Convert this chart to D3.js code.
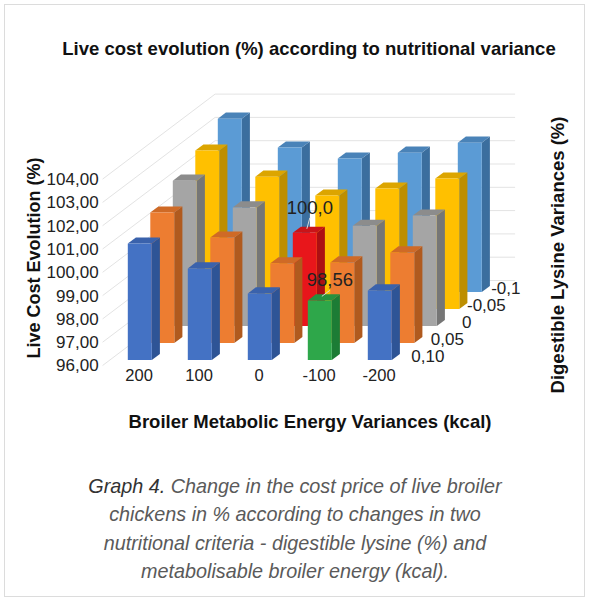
<!DOCTYPE html>
<html>
<head>
<meta charset="utf-8">
<script src="https://cdn.jsdelivr.net/npm/d3@7"></script>
<style>
  body { margin: 0; background: #fff; }
  text { font-family: "Liberation Sans", Arial, sans-serif; }
</style>
</head>
<body>
<svg id="chart" width="589" height="600"></svg>
<script>
// categories along the front (energy, kcal) and series going back (lysine, %)
const categories = ["200", "100", "0", "-100", "-200"];
const series = ["0,10", "0,05", "0", "-0,05", "-0,1"];

// one array of values per lysine variance, same order as categories
const lys010 = [101.00, 99.93, 98.86, 98.56, 98.99];
const lys005 = [101.60, 100.53, 99.42, 99.46, 99.89];
const lys000 = [102.24, 101.09, 100.00, 100.30, 100.74];
const lysM005 = [102.80, 101.68, 100.87, 101.17, 101.60];
const lysM010 = [103.44, 102.20, 101.73, 101.98, 102.41];
const seriesValues = [lys010, lys005, lys000, lysM005, lysM010];

const valueTicks = [96, 97, 98, 99, 100, 101, 102, 103, 104];

// highlighted cells with their data labels
const highlights = [
  { cat: "0", ser: "0", text: "100,0", color: "red", dx: 1, dy: -13 },
  { cat: "-100", ser: "0,10", text: "98,56", color: "green", dx: 6, dy: -8 }
];

// colours: front, side, top
const palette = {
  "0,10": ["#4472C4", "#2E5496", "#3A62AC"],
  "0,05": ["#ED7D31", "#B05A1E", "#CF6A26"],
  "0": ["#A5A5A5", "#767676", "#8C8C8C"],
  "-0,05": ["#FFC000", "#BD8E00", "#DCA500"],
  "-0,1": ["#5B9BD5", "#3B6E9E", "#4A83B8"],
  red: ["#E8161B", "#AD0F13", "#C91418"],
  green: ["#2EA74A", "#1C7C35", "#26913F"]
};

const svg = d3.select("#chart");

// oblique projection of the 3d box
const x0 = 102.6, y0 = 365.5;   // front-left corner of the floor
const DX = 22.5, DY = -17;      // screen offset for one row of depth
const proj = (x, h, d) => [x + d * DX, y0 - h + d * DY];

const xScale = d3.scaleBand().domain(categories).range([x0, x0 + 300]);
const zScale = d3.scaleBand().domain(series).range([0, 5]);
const hScale = d3.scaleLinear().domain([96, 104]).range([0, 186.4]);
const yScale = d3.scaleLinear().domain([96, 104]).range([y0, y0 - 186.4]);

const barW = xScale.bandwidth() * 0.4;
const barOff = (xScale.bandwidth() - barW) / 2;
const dFront = 0.32, dBack = 0.68;
const depth = 5;

// border round the figure
svg.append("rect")
  .attr("x", 4.5).attr("y", 4.5)
  .attr("width", 580).attr("height", 592)
  .attr("fill", "#fff")
  .attr("stroke", "#dcdcdc");

// walls: gridlines on back wall and left wall
const grid = svg.append("g").attr("stroke", "#e3e3e3").attr("fill", "none");
valueTicks.forEach(v => {
  const h = hScale(v);
  const a = proj(x0, h, 0);
  const b = proj(x0, h, depth);
  const c = proj(x0 + 300, h, depth);
  grid.append("path").attr("d", `M${a}L${b}L${c}`);
});

// bars, drawn back to front
const cells = [];
series.forEach((s, si) => {
  categories.forEach((c, ci) => {
    cells.push({ cat: c, ser: s, si: si, value: seriesValues[si][ci] });
  });
});
cells.sort((a, b) => b.si - a.si);

const bars = svg.append("g");
cells.forEach(d => {
  const hl = highlights.find(h => h.cat === d.cat && h.ser === d.ser);
  const col = hl ? palette[hl.color] : palette[d.ser];
  const bx = xScale(d.cat) + barOff;
  const z = zScale(d.ser);
  const h = hScale(d.value);
  const fl = proj(bx, 0, z + dFront), fr = proj(bx + barW, 0, z + dFront);
  const tl = proj(bx, h, z + dFront), tr = proj(bx + barW, h, z + dFront);
  const br = proj(bx + barW, 0, z + dBack), btr = proj(bx + barW, h, z + dBack);
  const btl = proj(bx, h, z + dBack);
  const g = bars.append("g");
  g.append("path").attr("d", `M${fr}L${br}L${btr}L${tr}Z`).attr("fill", col[1]);
  g.append("path").attr("d", `M${tl}L${tr}L${btr}L${btl}Z`).attr("fill", col[2]);
  g.append("path").attr("d", `M${fl}L${fr}L${tr}L${tl}Z`).attr("fill", col[0]);
  if (hl) {
    d.label = hl;
    d.topCenter = proj(bx + barW / 2, h, z + 0.5);
  }
});

// data labels with short leader lines
cells.filter(d => d.label).forEach(d => {
  const [tx, ty] = d.topCenter;
  const lx = tx + d.label.dx, ly = ty + d.label.dy;
  svg.append("line")
    .attr("x1", tx - 2).attr("y1", ty - 1)
    .attr("x2", lx).attr("y2", ly + 1)
    .attr("stroke", "#d9d9d9").attr("stroke-width", 1);
  svg.append("text")
    .attr("x", lx).attr("y", ly - 3)
    .attr("text-anchor", "middle")
    .attr("font-size", 18.5).attr("fill", "#222")
    .text(d.label.text);
});

// value axis labels on the front-left edge
const fmt = d3.formatLocale({ decimal: ",", thousands: ".", grouping: [3], currency: ["", ""] }).format(".2f");
const yAxis = svg.append("g")
  .attr("transform", `translate(${x0 - 4},0)`)
  .call(d3.axisLeft(yScale).tickValues(valueTicks).tickFormat(fmt).tickSize(0).tickPadding(0));
yAxis.select(".domain").remove();
yAxis.attr("font-size", null).attr("font-family", null);
yAxis.selectAll("text")
  .style("font-size", "17px")
  .attr("fill", "#222")
  .style("font-family", "'Liberation Sans', Arial, sans-serif");

// category labels along the front
svg.append("g").selectAll("text")
  .data(categories)
  .join("text")
  .attr("x", d => xScale(d) + xScale.bandwidth() / 2 + 6.5)
  .attr("y", 381)
  .attr("text-anchor", "middle")
  .attr("font-size", 16.5).attr("fill", "#222")
  .text(d => d);

// series labels along the right edge of the floor
svg.append("g").selectAll("text")
  .data(series)
  .join("text")
  .attr("x", (d, i) => proj(x0 + 300, 0, zScale(d) + 0.5)[0] + 14 - 3 * i)
  .attr("y", d => proj(x0 + 300, 0, zScale(d) + 0.5)[1] + 5)
  .attr("text-anchor", "middle")
  .attr("font-size", 17).attr("fill", "#222")
  .text(d => d);

// titles
svg.append("text")
  .attr("x", 309).attr("y", 55)
  .attr("text-anchor", "middle")
  .attr("font-size", 18.5).attr("font-weight", "bold").attr("fill", "#111")
  .text("Live cost evolution (%) according to nutritional variance");

svg.append("text")
  .attr("transform", "translate(40,258) rotate(-90)")
  .attr("text-anchor", "middle")
  .attr("font-size", 18).attr("font-weight", "bold").attr("fill", "#111")
  .text("Live Cost Evolution (%)");

svg.append("text")
  .attr("transform", "translate(564,255) rotate(-90)")
  .attr("text-anchor", "middle")
  .attr("font-size", 18.5).attr("font-weight", "bold").attr("fill", "#111")
  .text("Digestible Lysine Variances (%)");

svg.append("text")
  .attr("x", 310).attr("y", 428)
  .attr("text-anchor", "middle")
  .attr("font-size", 18.5).attr("font-weight", "bold").attr("fill", "#111")
  .text("Broiler Metabolic Energy Variances (kcal)");

// caption under the chart
const caption = [
  ["Graph 4.", " Change in the cost price of live broiler"],
  ["", "chickens in % according to changes in two"],
  ["", "nutritional criteria - digestible lysine (%) and"],
  ["", "metabolisable broiler energy (kcal)."]
];
caption.forEach((line, i) => {
  const t = svg.append("text")
    .attr("x", 295).attr("y", 493 + i * 28.3)
    .attr("text-anchor", "middle")
    .attr("font-size", 19.8).attr("font-style", "italic");
  if (line[0]) t.append("tspan").attr("fill", "#333").text(line[0]);
  t.append("tspan").attr("fill", "#5a5a5a").text(line[1]);
});
</script>
</body>
</html>
